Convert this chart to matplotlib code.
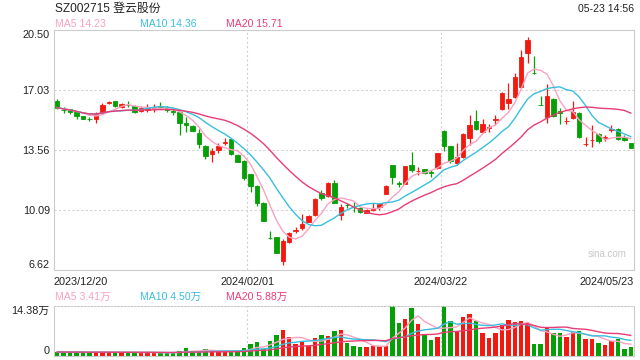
import numpy as np
import pandas as pd
import matplotlib
import matplotlib.pyplot as plt

matplotlib.pyplot.switch_backend("Agg")

plt.rcParams["font.family"] = ["Liberation Sans", "Noto Sans CJK SC", "DejaVu Sans"]

TITLE = "SZ002715 登云股份"
STAMP = "05-23 14:56"

date_labels = ["2023/12/20", "2024/02/01", "2024/03/22", "2024/05/23"]
price_ticks = [6.62, 10.09, 13.56, 17.03, 20.50]
vol_top = 14.38

ma_names = ["MA5", "MA10", "MA20"]
ma_last = [14.23, 14.36, 15.71]
vol_ma_last = [3.41, 4.50, 5.88]

opens = [
    16.39, 15.90, 15.93, 15.77, 15.53, 15.36, 15.37, 15.72, 16.30, 16.39,
    16.06, 16.18, 16.10, 15.83, 15.89, 15.99, 16.08, 16.06, 15.79, 15.77,
    15.14, 14.95, 14.56, 13.79, 13.31, 13.56, 13.99, 14.18, 13.27, 12.94,
    12.17, 11.48, 10.51, 8.47, 8.52, 7.16, 8.26, 8.90, 9.03, 9.40,
    9.80, 11.10, 10.90, 11.65, 9.82, 10.39, 10.27, 10.18, 9.93, 10.11,
    10.26, 11.04, 12.69, 11.64, 11.61, 12.69, 12.33, 12.44, 12.27, 12.52,
    14.66, 13.79, 12.79, 13.14, 14.24, 15.24, 14.62, 14.85, 15.32, 15.93,
    16.30, 16.64, 17.19, 19.15, 18.02, 16.18, 15.45, 16.51, 15.82, 15.23,
    15.39, 15.72, 13.90, 14.12, 14.49, 14.27, 14.74, 14.76, 14.29, 13.95,
]
closes = [
    16.01, 15.86, 15.76, 15.54, 15.37, 15.33, 15.64, 16.14, 16.33, 16.10,
    16.20, 16.15, 15.74, 16.01, 16.01, 16.02, 16.05, 15.87, 15.76, 15.10,
    14.99, 14.68, 13.89, 13.23, 13.52, 13.79, 14.02, 13.33, 12.88, 11.96,
    11.48, 10.50, 9.47, 8.45, 7.62, 8.31, 8.74, 8.93, 9.28, 9.76,
    10.73, 10.77, 11.67, 10.51, 10.25, 10.36, 10.24, 9.99, 10.09, 10.14,
    10.44, 11.48, 12.02, 11.61, 12.63, 12.42, 12.36, 12.21, 12.24, 13.37,
    13.79, 12.92, 13.14, 14.49, 15.01, 14.77, 15.06, 14.88, 15.35, 16.87,
    16.51, 17.80, 18.96, 19.92, 18.00, 16.16, 16.68, 15.53, 15.68, 15.26,
    15.77, 14.29, 13.93, 14.15, 14.10, 14.30, 14.77, 14.18, 14.14, 13.69,
]
highs = [
    16.49, 16.05, 15.95, 15.80, 15.55, 15.47, 15.77, 16.26, 16.41, 16.41,
    16.26, 16.39, 16.16, 16.12, 16.22, 16.22, 16.36, 16.12, 15.91, 15.82,
    15.49, 14.99, 14.76, 13.85, 13.66, 13.95, 14.28, 14.22, 13.30, 12.98,
    12.20, 11.51, 10.55, 8.88, 8.55, 8.40, 8.82, 9.09, 9.86, 9.80,
    10.76, 11.25, 11.71, 11.83, 10.44, 10.51, 10.57, 10.28, 10.12, 10.48,
    10.48, 11.53, 12.72, 11.78, 12.66, 13.46, 12.56, 12.49, 12.42, 13.39,
    14.72, 13.82, 13.95, 14.53, 15.58, 15.87, 15.34, 15.06, 15.58, 16.94,
    17.42, 18.00, 19.34, 20.11, 19.00, 16.68, 17.38, 16.54, 15.97, 15.47,
    16.41, 15.76, 14.29, 15.01, 14.52, 14.43, 15.01, 14.83, 14.43, 13.97,
]
lows = [
    15.91, 15.70, 15.62, 15.37, 15.35, 15.24, 15.14, 15.62, 16.22, 16.06,
    15.99, 16.06, 15.68, 15.77, 15.77, 15.77, 15.97, 15.77, 15.58, 14.43,
    14.58, 14.64, 13.66, 13.02, 12.85, 13.37, 13.85, 13.27, 12.84, 11.83,
    11.13, 10.32, 9.43, 8.43, 7.58, 6.91, 8.17, 8.74, 8.93, 9.37,
    9.77, 10.67, 10.87, 10.48, 9.49, 10.19, 9.99, 9.92, 9.91, 10.05,
    10.09, 11.00, 11.58, 11.40, 11.58, 12.31, 12.13, 12.17, 12.02, 12.49,
    13.52, 12.83, 12.69, 13.08, 13.85, 14.72, 14.56, 14.62, 15.01, 15.87,
    15.93, 16.55, 17.13, 18.57, 17.98, 16.14, 15.14, 15.45, 15.06, 15.06,
    15.34, 14.28, 13.79, 13.75, 13.98, 14.10, 14.62, 14.14, 14.10, 13.66,
]
# volume in 万
volumes = [
    1.15, 1.12, 1.10, 1.14, 1.05, 1.00, 1.08, 1.15, 1.05, 1.02,
    0.98, 1.03, 1.12, 0.95, 1.04, 0.96, 0.80, 0.88, 1.05, 1.44,
    2.21, 1.25, 1.34, 2.01, 1.44, 1.34, 1.25, 1.25, 1.44, 2.21,
    3.36, 4.03, 2.00, 4.32, 6.04, 7.48, 5.47, 3.36, 4.03, 2.88,
    5.18, 6.04, 5.75, 7.19, 7.48, 3.84, 2.88, 2.69, 2.69, 2.88,
    2.88, 2.88, 14.30, 9.59, 10.74, 13.81, 9.30, 6.23, 4.70, 5.47,
    14.38, 10.07, 7.19, 11.22, 12.18, 10.07, 6.71, 5.27, 6.71, 8.82,
    10.40, 9.80, 10.00, 9.50, 3.55, 3.55, 8.00, 6.60, 6.60, 5.47,
    6.90, 7.20, 4.99, 4.99, 3.84, 3.26, 4.32, 4.79, 1.92, 2.69,
]

RED = "#f21a10"
GREEN = "#05a005"
MA_COLORS = ["#f9a2c2", "#38bfdf", "#ea3c74"]
GRID = "#d2d2d2"
SPINE = "#cccccc"
TEXT = "#222222"

W, H = 640, 360
fig = plt.figure(figsize=(W / 100, H / 100), dpi=100)
fig.patch.set_facecolor("white")


def fx(px):
    return px / W


def fy(py):
    return 1 - py / H


ax = fig.add_axes([fx(54), fy(270), fx(580), (270 - 30) / H])
axv = fig.add_axes([fx(54), fy(356), fx(580), (356 - 306) / H])

x = np.arange(len(closes))
o = np.array(opens)
c = np.array(closes)
colors = np.where(c >= o, RED, GREEN)

# candles
ax.vlines(x, lows, highs, colors=colors, linewidth=0.9, zorder=2)
ax.bar(x, np.maximum(np.abs(c - o), 0.02), bottom=np.minimum(o, c), width=0.7,
       color=colors, edgecolor=colors, linewidth=0.6, zorder=3)

for n, col in zip([5, 10, 20], MA_COLORS):
    ma = pd.Series(closes).rolling(n, min_periods=1).mean()
    ax.plot(x, ma, color=col, linewidth=1.0, zorder=4)

# volume bars
axv.bar(x, volumes, width=0.7, color=colors, linewidth=0, zorder=2)
for n, col in zip([5, 10, 20], MA_COLORS):
    ma = pd.Series(volumes).rolling(n, min_periods=1).mean()
    axv.plot(x, ma, color=col, linewidth=1.0, zorder=3)

n = len(closes)
xpos = [-0.5 + i * n / 3 for i in range(4)]

for a in (ax, axv):
    a.set_xlim(-0.5, n - 0.5)
    for s in a.spines.values():
        s.set_color(SPINE)
        s.set_linewidth(0.8)
    for xv in xpos[1:3]:
        a.axvline(xv, color=GRID, linestyle=(0, (2, 2)), linewidth=0.8, zorder=1)
    a.tick_params(length=0, colors=TEXT, labelsize=7.8)

axv.spines["top"].set_linestyle((0, (1.5, 1.5)))

ax.set_ylim(price_ticks[0], price_ticks[-1])
for yv in price_ticks[1:-1]:
    ax.axhline(yv, color=GRID, linestyle=(0, (2, 2)), linewidth=0.8, zorder=1)
ax.set_yticks(price_ticks)
ax.set_yticklabels(["%.2f" % v for v in price_ticks])
ax.tick_params(axis="y", pad=3)
ylabs = ax.get_yticklabels()
ylabs[0].set_verticalalignment("bottom")
ylabs[-1].set_verticalalignment("top")

ax.set_xticks(xpos)
ax.set_xticklabels(date_labels)
ax.tick_params(axis="x", pad=5)
xlabs = ax.get_xticklabels()
xlabs[0].set_horizontalalignment("left")
xlabs[-1].set_horizontalalignment("right")

axv.set_ylim(0, vol_top)
axv.set_yticks([0, vol_top])
axv.set_yticklabels(["0", "%.2f万" % vol_top])
axv.tick_params(axis="y", pad=3)
vlabs = axv.get_yticklabels()
vlabs[0].set_verticalalignment("bottom")
vlabs[1].set_verticalalignment("top")
axv.set_xticks([])

# header texts
fig.text(fx(55), fy(9), TITLE, fontsize=8.6, color=TEXT, va="center", ha="left")
fig.text(fx(634), fy(9), STAMP, fontsize=7.6, color=TEXT, va="center", ha="right")

for i, (name, val, col) in enumerate(zip(ma_names, ma_last, MA_COLORS)):
    fig.text(fx(55 + 85.5 * i), fy(24), "%s %.2f" % (name, val), fontsize=7.6,
             color=col, va="center", ha="left")
for i, (name, val, col) in enumerate(zip(ma_names, vol_ma_last, MA_COLORS)):
    fig.text(fx(55 + 85.5 * i), fy(297), "%s %.2f万" % (name, val), fontsize=7.6,
             color=col, va="center", ha="left")

ax.text(0.988, 0.065, "sina.com", transform=ax.transAxes, fontsize=7,
        color="#c8c8c8", ha="right", va="center")

fig.savefig("out.png", dpi=100, facecolor="white")
